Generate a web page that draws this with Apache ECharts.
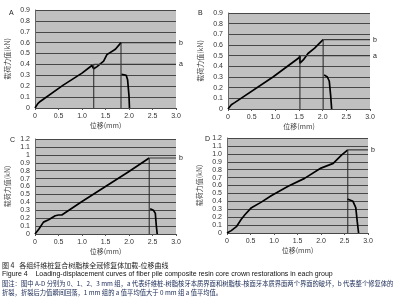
<!DOCTYPE html>
<html>
<head>
<meta charset="utf-8">
<script src="https://cdn.jsdelivr.net/npm/echarts@6/dist/echarts.min.js"></script>
<style>
  html, body { margin: 0; padding: 0; background: #fff; }
  #chart { width: 397px; height: 300px; }
</style>
</head>
<body>
<div id="chart"></div>
<script>
// 位移 (mm) / 力值 (kN)
const dispA = [0, 0.06, 0.11, 0.6, 1.0, 1.21, 1.25, 1.25, 1.32, 1.46, 1.53, 1.71, 1.83];
const loadA = [0, 0.04, 0.06, 0.21, 0.32, 0.39, 0.40, 0.36, 0.38, 0.43, 0.49, 0.54, 0.60];
const dropDispA = [1.84, 1.94, 1.97, 2.0, 2.01];
const dropLoadA = [0.31, 0.30, 0.26, 0.11, 0];

const dispB = [0, 0.07, 0.14, 0.95, 1.5, 1.52, 1.52, 1.59, 1.69, 1.83, 2.01];
const loadB = [0, 0.04, 0.06, 0.30, 0.48, 0.50, 0.43, 0.46, 0.52, 0.57, 0.65];
const dropDispB = [2.03, 2.1, 2.14, 2.17, 2.19];
const dropLoadB = [0.32, 0.30, 0.26, 0.12, 0];

const dispC = [0, 0.08, 0.18, 0.29, 0.33, 0.43, 0.5, 0.57, 0.61, 1.0, 1.5, 2.0, 2.43];
const loadC = [0, 0.06, 0.15, 0.18, 0.20, 0.23, 0.24, 0.24, 0.26, 0.41, 0.60, 0.79, 0.96];
const dropDispC = [2.45, 2.52, 2.56, 2.58, 2.6];
const dropLoadC = [0.32, 0.30, 0.26, 0.11, 0];

const dispD = [0, 0.09, 0.2, 0.3, 0.38, 0.52, 0.73, 0.94, 1.3, 1.65, 2.0, 2.26, 2.43, 2.57];
const loadD = [0, 0.03, 0.08, 0.17, 0.23, 0.32, 0.39, 0.47, 0.59, 0.69, 0.82, 0.88, 0.98, 1.05];
const dropDispD = [2.56, 2.68, 2.74, 2.77, 2.8];
const dropLoadD = [0.43, 0.40, 0.32, 0.15, 0];

// a、b 点 [位移, 力值]
const aPointA = [1.25, 0.40], bPointA = [1.83, 0.60];
const aPointB = [1.52, 0.50], bPointB = [2.01, 0.65];
const bPointC = [2.43, 0.96];
const bPointD = [2.57, 1.05];

const panelLetters = ['A', 'B', 'C', 'D'];
const yMax = [0.9, 0.9, 1.2, 1.2];
const yTitle = '载荷力值(kN)';
const xTitle = '位移(mm)';

const captionCn = '图 4   各组纤维桩复合树脂核全冠修复体加载-位移曲线';
const captionEn = 'Figure 4    Loading-displacement curves of fiber pile composite resin core crown restorations in each group';
const noteLine1 = '图注：图中 A-D 分别为 0、1、2、3 mm 组，a 代表纤维桩-树脂核牙本质界面和树脂核-核面牙本质界面两个界面的破坏，b 代表整个修复体的';
const noteLine2 = '折裂，折裂后力值瞬间回落，1 mm 组的 a 值平均值大于 0 mm 组 a 值平均值。';

const zip = (xs, ys) => xs.map((x, i) => [x, ys[i]]);

const grids = [
  { left: 35, top: 10, width: 141, height: 98 },
  { left: 228, top: 13, width: 142, height: 96 },
  { left: 35, top: 139, width: 141, height: 95 },
  { left: 227, top: 138, width: 141, height: 95 }
];

const mainCurves = [zip(dispA, loadA), zip(dispB, loadB), zip(dispC, loadC), zip(dispD, loadD)];
const dropCurves = [zip(dropDispA, dropLoadA), zip(dropDispB, dropLoadB), zip(dropDispC, dropLoadC), zip(dropDispD, dropLoadD)];
const aPoints = [aPointA, aPointB, null, null];
const bPoints = [bPointA, bPointB, bPointC, bPointD];

const tickFont = { fontSize: 7, color: '#333', fontFamily: 'Liberation Sans' };

const xAxes = grids.map((g, i) => ({
  gridIndex: i,
  type: 'value',
  min: 0, max: 3, interval: 0.5,
  name: xTitle,
  nameLocation: 'middle',
  nameGap: 14,
  nameTextStyle: { fontSize: 7, color: '#444', fontFamily: 'Noto Sans CJK SC' },
  axisLine: { show: false },
  axisTick: { show: true, length: 2, lineStyle: { color: '#555' } },
  splitLine: { show: false },
  axisLabel: Object.assign({ margin: 5, formatter: v => (v === 0 ? '0' : v.toFixed(1)) }, tickFont)
}));

const yAxes = grids.map((g, i) => ({
  gridIndex: i,
  type: 'value',
  min: 0, max: yMax[i], interval: 0.1,
  name: yTitle,
  nameLocation: 'middle',
  nameGap: 24,
  nameTextStyle: { fontSize: 7, color: '#444', fontFamily: 'Noto Sans CJK SC' },
  axisLine: { show: true, lineStyle: { color: '#666', width: 1 } },
  axisTick: { show: false },
  splitLine: { show: true, lineStyle: { color: '#474747', width: 1 } },
  axisLabel: Object.assign({
    margin: 5,
    formatter: v => {
      if (v === 0) return '0';
      if (i === 2 && Math.abs(v - 1) < 1e-6) return '1';
      return v.toFixed(1);
    }
  }, tickFont)
}));

const series = [];
grids.forEach((g, i) => {
  const ax = { xAxisIndex: i, yAxisIndex: i };
  series.push(Object.assign({
    type: 'line', data: mainCurves[i], symbol: 'none', silent: true,
    lineStyle: { color: '#000', width: 1.7 }
  }, ax));
  series.push(Object.assign({
    type: 'line', data: dropCurves[i], symbol: 'none', silent: true,
    lineStyle: { color: '#000', width: 1.7 }
  }, ax));
  const marks = [['b', bPoints[i]], ['a', aPoints[i]]];
  marks.forEach(([name, p]) => {
    if (!p) return;
    // 竖线
    series.push(Object.assign({
      type: 'line', data: [[p[0], p[1]], [p[0], 0]], symbol: 'none', silent: true,
      lineStyle: { color: '#222', width: 1 }
    }, ax));
    // 水平线至右边界并标注
    series.push(Object.assign({
      type: 'line', data: [[p[0], p[1]], [3.0, p[1]]], symbol: 'none', silent: true,
      lineStyle: { color: '#3a3a3a', width: 1.2 },
      endLabel: {
        show: true, formatter: name, distance: 3,
        fontSize: 7, color: '#222', fontFamily: 'Liberation Sans'
      }
    }, ax));
  });
});

const letterPos = [[12, 14], [201, 14], [13, 141], [208, 140]];
const graphic = letterPos.map((p, i) => ({
  type: 'text', left: p[0] - 3, top: p[1] - 4,
  style: { text: panelLetters[i], fontSize: 7, fill: '#222', fontFamily: 'Liberation Sans' }
}));
graphic.push(
  { type: 'text', left: 2, top: 262, style: { text: captionCn, fontSize: 7, fill: '#222', fontFamily: 'Noto Sans CJK SC' } },
  { type: 'text', left: 2, top: 271, style: { text: captionEn, fontSize: 7, fill: '#111', fontFamily: 'Liberation Sans' } },
  { type: 'text', left: 2, top: 280, style: { text: noteLine1, fontSize: 6.3, fill: '#1a2a55', fontFamily: 'Noto Sans CJK SC' } },
  { type: 'text', left: 2, top: 289, style: { text: noteLine2, fontSize: 6.3, fill: '#1a2a55', fontFamily: 'Noto Sans CJK SC' } }
);

const chart = echarts.init(document.getElementById('chart'), null, { renderer: 'canvas' });
chart.setOption({
  animation: false,
  backgroundColor: '#fff',
  grid: grids.map(g => Object.assign({ show: true, backgroundColor: '#c0c0c0', borderWidth: 0 }, g)),
  xAxis: xAxes,
  yAxis: yAxes,
  series: series,
  graphic: graphic
});
</script>
</body>
</html>
